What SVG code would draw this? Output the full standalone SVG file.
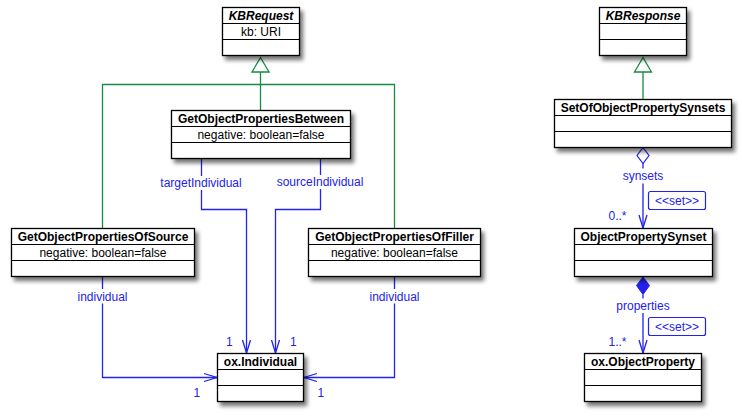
<svg xmlns="http://www.w3.org/2000/svg" width="742" height="416" viewBox="0 0 742 416">
<defs>
<filter id="sh" x="-20%" y="-20%" width="140%" height="160%">
<feGaussianBlur in="SourceAlpha" stdDeviation="2.2"/>
<feOffset dx="3" dy="4" result="b"/>
<feComponentTransfer><feFuncA type="linear" slope="0.55"/></feComponentTransfer>
<feMerge><feMergeNode/><feMergeNode in="SourceGraphic"/></feMerge>
</filter>
</defs>
<style>
.box{fill:#fff;stroke:#000;stroke-width:1.3}
.sep{stroke:#000;stroke-width:1.2}
.t{font-family:"Liberation Sans",Arial,sans-serif;font-size:12px;font-weight:bold;text-anchor:middle;fill:#000}
.ti{font-style:italic}
.a{font-family:"Liberation Sans",Arial,sans-serif;font-size:12px;text-anchor:middle;fill:#000}
.gen{fill:none;stroke:#178a43;stroke-width:1.3}
.tri{fill:#fff;stroke:#178a43;stroke-width:1.3}
.as{fill:none;stroke:#2222ee;stroke-width:1.3}
.lb{font-family:"Liberation Sans",Arial,sans-serif;font-size:12px;fill:#2222ee}
.mid{text-anchor:middle}
.st{fill:#fff;stroke:#2222ee;stroke-width:1.2}
</style>

<g id="connectors">
<path class="gen" d="M102.5,228.5 V84.5 H394.5 V228.5 M260.5,110.5 V72"/>
<polygon class="tri" points="260.5,57.5 252,72 269,72"/>
<path class="gen" d="M643,99.5 V72"/>
<polygon class="tri" points="643,57.5 634.5,72 651.5,72"/>

<path class="as" d="M201.5,158.5 V176 M201.5,190 V209.5 H246.5 V353"/>
<path class="as" d="M242.5,340 L246.5,353 L250.5,340"/>
<text class="lb mid" x="201" y="187">targetIndividual</text>

<path class="as" d="M320.5,158.5 V175 M320.5,189 V209.5 H275.5 V353"/>
<path class="as" d="M271.5,340 L275.5,353 L279.5,340"/>
<text class="lb mid" x="320" y="185.5">sourceIndividual</text>
<text class="lb" x="226" y="346">1</text>
<text class="lb" x="290" y="346">1</text>

<path class="as" d="M102.5,276.5 V289 M102.5,303.5 V377.5 H217"/>
<path class="as" d="M204,373.5 L217,377.5 L204,381.5"/>
<text class="lb mid" x="102.5" y="300.5">individual</text>
<text class="lb" x="193.5" y="397">1</text>

<path class="as" d="M394.5,276.5 V289 M394.5,303.5 V377.5 H304"/>
<path class="as" d="M317,373.5 L304,377.5 L317,381.5"/>
<text class="lb mid" x="394.5" y="300.5">individual</text>
<text class="lb" x="317.5" y="397">1</text>

<polygon class="st" points="643,147.5 649,155.5 643,163.5 637,155.5"/>
<path class="as" d="M643,163.5 V168.5 M643,183.5 V228"/>
<path class="as" d="M639,215 L643,228 L647,215"/>
<text class="lb mid" x="643" y="180">synsets</text>
<rect class="st" x="648.5" y="191.5" width="57" height="18" rx="2"/>
<text class="lb mid" x="677" y="205">&lt;&lt;set&gt;&gt;</text>
<text class="lb" x="608.5" y="219.5">0..*</text>

<polygon points="643,277 649.5,285.5 643,294.5 636.5,285.5" fill="#2222ee" stroke="#2222ee" stroke-width="1"/>
<path class="as" d="M643,294.5 V298.5 M643,313 V353"/>
<path class="as" d="M639,340 L643,353 L647,340"/>
<text class="lb mid" x="643" y="309.5">properties</text>
<rect class="st" x="648.5" y="317.5" width="57" height="18" rx="2"/>
<text class="lb mid" x="677" y="331">&lt;&lt;set&gt;&gt;</text>
<text class="lb" x="608.5" y="345.5">1..*</text>
</g>

<g id="KBRequest">
<rect class="box" x="222.5" y="7.5" width="77" height="48" filter="url(#sh)"/>
<path class="sep" d="M222.5,23.5 H299.5 M222.5,39.5 H299.5"/>
<text class="t ti" x="261" y="20">KBRequest</text>
<text class="a" x="261" y="36">kb: URI</text>
</g>

<g id="GetObjectPropertiesBetween">
<rect class="box" x="171.5" y="110.5" width="179" height="48" filter="url(#sh)"/>
<path class="sep" d="M171.5,126.5 H350.5 M171.5,142.5 H350.5"/>
<text class="t" x="261" y="123">GetObjectPropertiesBetween</text>
<text class="a" x="261" y="139">negative: boolean=false</text>
</g>

<g id="GetObjectPropertiesOfSource">
<rect class="box" x="11.5" y="228.5" width="183" height="48" filter="url(#sh)"/>
<path class="sep" d="M11.5,244.5 H194.5 M11.5,260.5 H194.5"/>
<text class="t" x="103" y="241">GetObjectPropertiesOfSource</text>
<text class="a" x="103" y="257">negative: boolean=false</text>
</g>

<g id="GetObjectPropertiesOfFiller">
<rect class="box" x="308.5" y="228.5" width="172" height="48" filter="url(#sh)"/>
<path class="sep" d="M308.5,244.5 H480.5 M308.5,260.5 H480.5"/>
<text class="t" x="394.5" y="241">GetObjectPropertiesOfFiller</text>
<text class="a" x="394.5" y="257">negative: boolean=false</text>
</g>

<g id="oxIndividual">
<rect class="box" x="217.5" y="353.5" width="86" height="48" filter="url(#sh)"/>
<path class="sep" d="M217.5,369.5 H303.5 M217.5,385.5 H303.5"/>
<text class="t" x="260.5" y="366">ox.Individual</text>
</g>

<g id="KBResponse">
<rect class="box" x="599.5" y="7.5" width="87" height="48" filter="url(#sh)"/>
<path class="sep" d="M599.5,23.5 H686.5 M599.5,39.5 H686.5"/>
<text class="t ti" x="643" y="20">KBResponse</text>
</g>

<g id="SetOfObjectPropertySynsets">
<rect class="box" x="554.5" y="99.5" width="177" height="48" filter="url(#sh)"/>
<path class="sep" d="M554.5,115.5 H731.5 M554.5,131.5 H731.5"/>
<text class="t" x="643" y="112">SetOfObjectPropertySynsets</text>
</g>

<g id="ObjectPropertySynset">
<rect class="box" x="574.5" y="228.5" width="138" height="48" filter="url(#sh)"/>
<path class="sep" d="M574.5,244.5 H712.5 M574.5,260.5 H712.5"/>
<text class="t" x="643.5" y="241">ObjectPropertySynset</text>
</g>

<g id="oxObjectProperty">
<rect class="box" x="584.5" y="353.5" width="117" height="48" filter="url(#sh)"/>
<path class="sep" d="M584.5,369.5 H701.5 M584.5,385.5 H701.5"/>
<text class="t" x="643" y="366">ox.ObjectProperty</text>
</g>
</svg>
